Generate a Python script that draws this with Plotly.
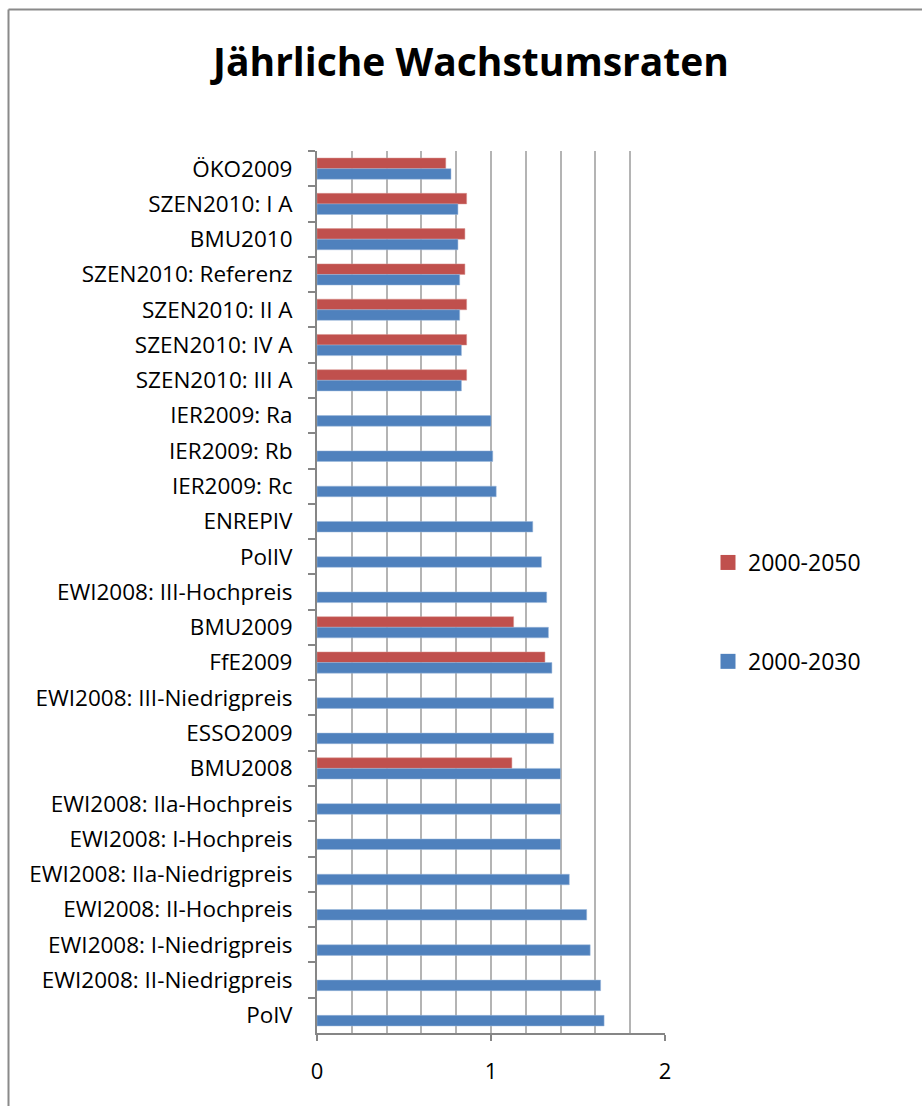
import plotly.graph_objects as go

# categories top to bottom
szenarien = [
    "ÖKO2009",
    "SZEN2010: I A",
    "BMU2010",
    "SZEN2010: Referenz",
    "SZEN2010: II A",
    "SZEN2010: IV A",
    "SZEN2010: III A",
    "IER2009: Ra",
    "IER2009: Rb",
    "IER2009: Rc",
    "ENREPIV",
    "PolIV",
    "EWI2008: III-Hochpreis",
    "BMU2009",
    "FfE2009",
    "EWI2008: III-Niedrigpreis",
    "ESSO2009",
    "BMU2008",
    "EWI2008: IIa-Hochpreis",
    "EWI2008: I-Hochpreis",
    "EWI2008: IIa-Niedrigpreis",
    "EWI2008: II-Hochpreis",
    "EWI2008: I-Niedrigpreis",
    "EWI2008: II-Niedrigpreis",
    "PolV",
]

rate_2030 = [
    0.77, 0.81, 0.81, 0.82, 0.82, 0.83, 0.83,
    1.00, 1.01, 1.03, 1.24, 1.29, 1.32, 1.33,
    1.35, 1.36, 1.36, 1.40, 1.40, 1.40, 1.45,
    1.55, 1.57, 1.63, 1.65,
]

rate_2050 = [
    0.74, 0.86, 0.85, 0.85, 0.86, 0.86, 0.86,
    None, None, None, None, None, None, 1.13,
    1.31, None, None, 1.12, None, None, None,
    None, None, None, None,
]

FONT = "Open Sans"
RED = "#C0504D"
BLUE = "#4F81BD"

fig = go.Figure()
fig.add_trace(
    go.Bar(
        name="2000-2050",
        y=szenarien,
        x=rate_2050,
        orientation="h",
        marker=dict(color=RED, line=dict(color="#D8928F", width=0.5)),
        showlegend=False,
    )
)
fig.add_trace(
    go.Bar(
        name="2000-2030",
        y=szenarien,
        x=rate_2030,
        orientation="h",
        marker=dict(color=BLUE, line=dict(color="#9DB8DA", width=0.5)),
        showlegend=False,
    )
)

# legend entries with bigger square swatches
for name, col, grp in [("2000-2050", RED, "a"), ("2000-2030", BLUE, "b")]:
    fig.add_trace(
        go.Scatter(
            name=name,
            x=[None],
            y=[None],
            mode="markers",
            marker=dict(symbol="square", size=15, color=col),
            legendgroup=grp,
        )
    )

# chart frame: only left and top edges are visible in the crop
frame_x = (8.5 - 317) / 348
frame_y = (1033 - 9.5) / 882
frame_line = dict(color="#8a8a8a", width=2)

fig.update_layout(
    width=922,
    height=1106,
    barmode="group",
    bargap=0.40,
    bargroupgap=0,
    paper_bgcolor="white",
    plot_bgcolor="white",
    font=dict(family=FONT, color="black", size=22),
    title=dict(
        text="<b>Jährliche Wachstumsraten</b>",
        x=471 / 922,
        xanchor="center",
        y=1 - 62 / 1106,
        yanchor="middle",
        font=dict(family=FONT, size=39, color="black"),
    ),
    margin=dict(l=317, r=257, t=151, b=73),
    showlegend=True,
    legend=dict(
        x=(708 - 317) / 348,
        xanchor="left",
        y=(1033 - 612) / 882,
        yanchor="middle",
        traceorder="grouped",
        tracegroupgap=66,
        font=dict(size=23),
        itemwidth=30,
    ),
    shapes=[
        dict(type="line", xref="paper", yref="paper",
             x0=frame_x, x1=frame_x, y0=-0.2, y1=frame_y,
             line=frame_line, layer="below"),
        dict(type="line", xref="paper", yref="paper",
             x0=frame_x, x1=1.9, y0=frame_y, y1=frame_y,
             line=frame_line, layer="below"),
    ],
)

fig.update_xaxes(
    range=[0, 2],
    dtick=1,
    showgrid=True,
    gridcolor="#b4b4b4",
    gridwidth=1.5,
    minor=dict(dtick=0.2, showgrid=True, gridcolor="#b4b4b4", gridwidth=1.5),
    showline=True,
    linecolor="#868686",
    linewidth=2,
    ticks="outside",
    ticklen=6,
    tickcolor="#868686",
    tickwidth=2,
    ticklabelstandoff=12,
    tickfont=dict(size=22),
    zeroline=False,
)
fig.update_yaxes(
    autorange="reversed",
    type="category",
    showline=True,
    linecolor="#868686",
    linewidth=2,
    ticks="outside",
    ticklen=7,
    tickcolor="#868686",
    tickwidth=2,
    tickson="boundaries",
    ticklabelstandoff=18,
    tickfont=dict(size=22.5),
    showgrid=False,
)

fig.write_html(
    "out.html",
    config={"displayModeBar": False},
    post_script=(
        "document.body.style.margin='0';"
        "document.body.style.overflow='hidden';"
        "document.documentElement.style.overflow='hidden';"
    ),
)
